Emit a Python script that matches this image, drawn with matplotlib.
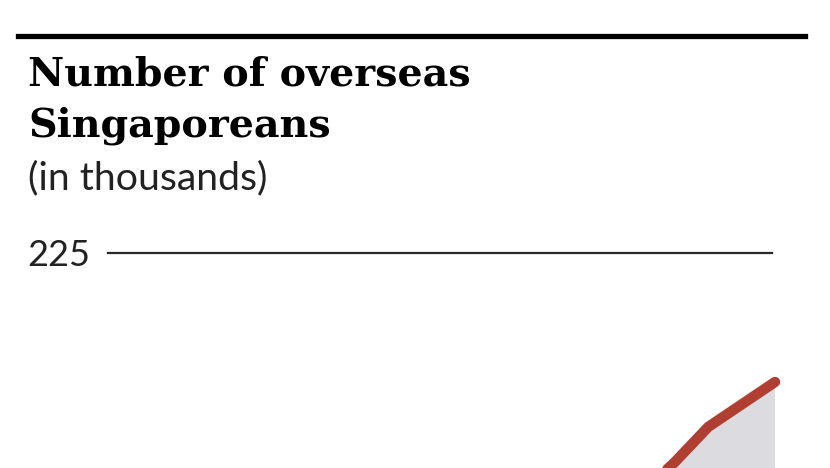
import matplotlib.pyplot as plt

# Dane (tysiące)
years = [2003, 2005, 2007, 2009, 2011, 2013, 2015, 2017, 2019, 2020, 2021, 2023]
overseas = [147.0, 152.0, 160.0, 168.0, 172.0, 175.0, 176.5, 177.5, 178.5, 184.5, 191.3, 200.0]
yticks = [225]

fig = plt.figure(figsize=(8.3, 4.68), dpi=100)

# Oś wystaje poza dół rysunku - widoczna jest tylko górna część wykresu
px = 225 * 5.16
ax = fig.add_axes([108 / 830, (468 - 253 - px) / 468, 667 / 830, px / 468])
ax.set_xlim(years[0], years[-1])
ax.set_ylim(0, 225)

for v in yticks:
    ax.axhline(v, xmin=0, xmax=664 / 667, color="#2a2a2a", lw=1.6, clip_on=False, zorder=1)

ax.fill_between(years, overseas, 0, color="#dcdbdf", lw=0, zorder=2)
ax.plot(years, overseas, color="#b03f32", lw=7.5, solid_capstyle="round",
        solid_joinstyle="round", clip_on=False, zorder=3)

ax.set_yticks(yticks)
ax.set_yticklabels([str(v) for v in yticks], fontfamily="Lato", fontsize=26, color="#222222")
ax.tick_params(axis="y", length=0, pad=12.5)
ax.set_xticks([])
for s in ax.spines.values():
    s.set_visible(False)
ax.patch.set_alpha(0)

# Linia u góry i tytuł
fig.add_artist(plt.Line2D([18 / 830, 805 / 830], [1 - 36 / 468, 1 - 36 / 468],
                          color="black", lw=3.8))
fig.text(28 / 830, 1 - 86 / 468, "Number of overseas", fontfamily="DejaVu Serif",
         fontweight="bold", fontsize=28.5, color="black", va="baseline")
fig.text(28 / 830, 1 - 136 / 468, "Singaporeans", fontfamily="DejaVu Serif",
         fontweight="bold", fontsize=28.5, color="black", va="baseline")
fig.text(28 / 830, 1 - 189 / 468, "(in thousands)", fontfamily="Lato", fontsize=28.3,
         color="#222222", va="baseline")

fig.savefig("out.png", dpi=100)
